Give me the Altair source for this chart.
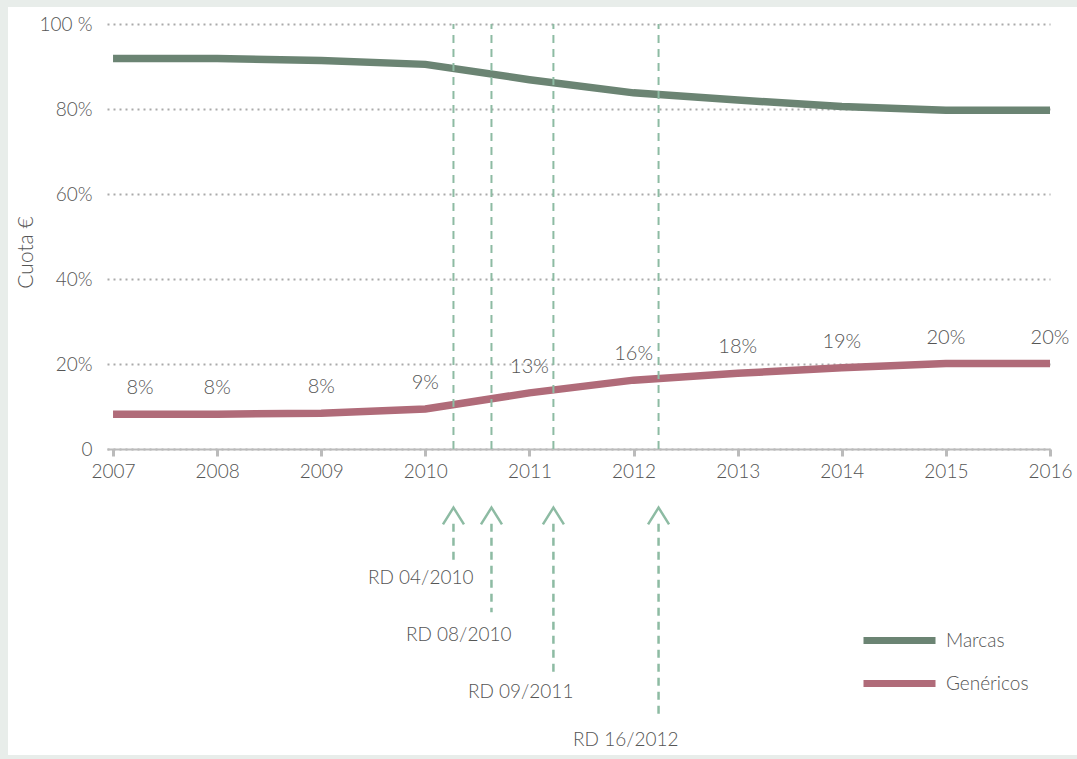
import altair as alt
import pandas as pd

# ---- data ----
years = [2007, 2008, 2009, 2010, 2011, 2012, 2013, 2014, 2015, 2016]
marcas = [91.9, 91.9, 91.4, 90.5, 86.9, 83.8, 82.1, 80.6, 79.7, 79.7]
genericos = [8.2, 8.2, 8.4, 9.4, 13.2, 16.2, 17.8, 19.1, 20.1, 20.1]

rd_labels = ["RD 04/2010", "RD 08/2010", "RD 09/2011", "RD 16/2012"]
rd_dates = [2010.27, 2010.635, 2011.23, 2012.24]
# vertical reach of each annotation below the axis, in chart units (% axis)
rd_arrow_tip = [-13.8, -13.8, -13.8, -13.8]
rd_shaft_top = [-17.6, -17.6, -17.6, -17.6]
rd_shaft_end = [-26.1, -38.4, -52.7, -63.5]
rd_label_level = [-30.4, -43.8, -57.2, -68.5]

series_names = ["Marcas", "Genéricos"]
series_colors = ["#6b8473", "#b06b79"]

FONT = "Lato"
TXT = "#555555"
BORDER = "#e8edea"

rows = []
for y, m, g in zip(years, marcas, genericos):
    rows.append({"year": y, "serie": "Marcas", "value": m})
    rows.append({"year": y, "serie": "Genéricos", "value": g})
df = pd.DataFrame(rows)
gen = pd.DataFrame({"year": years, "value": genericos})
rd = pd.DataFrame({
    "date": rd_dates, "label": rd_labels, "tip": rd_arrow_tip,
    "top": rd_shaft_top, "end": rd_shaft_end, "lvl": rd_label_level,
})

xscale = alt.Scale(domain=[2006.942, 2016], nice=False, zero=False)
yscale = alt.Scale(domain=[0, 100], nice=False)

one = pd.DataFrame({"a": [0]})
border_left = alt.Chart(one).mark_rect(color=BORDER).encode(
    x=alt.value(-107), x2=alt.value(-99), y=alt.value(-24), y2=alt.value(735))
border_top = alt.Chart(one).mark_rect(color=BORDER).encode(
    x=alt.value(-107), x2=alt.value(970), y=alt.value(-24), y2=alt.value(-17))
border_bottom = alt.Chart(one).mark_rect(color=BORDER).encode(
    x=alt.value(-107), x2=alt.value(970), y=alt.value(731), y2=alt.value(735))

lines = alt.Chart(df).mark_line(strokeWidth=7.5, strokeCap="butt").encode(
    x=alt.X("year:Q", scale=xscale,
            axis=alt.Axis(values=years, format="d", title=None, grid=False,
                          labelFontSize=19, labelColor=TXT, labelFont=FONT,
                          labelFontWeight=300, labelPadding=6, labelFlush=False,
                          domainColor="#bbbbbb", domainWidth=2,
                          tickColor="#bbbbbb", tickWidth=3, tickSize=7)),
    y=alt.Y("value:Q", scale=yscale,
            axis=alt.Axis(values=[0, 20, 40, 60, 80, 100],
                          labelExpr="datum.value == 0 ? '0' : datum.value == 100 ? '100 %' : datum.value + '%'",
                          title="Cuota €", titleY=228, titlePadding=2,
                          labelFontSize=19, labelColor=TXT, labelFont=FONT,
                          labelFontWeight=300, labelPadding=15, ticks=False,
                          domain=False, grid=True, gridColor="#aaaaaa",
                          gridDash=[2, 4], gridWidth=2)),
    color=alt.Color("serie:N", scale=alt.Scale(domain=series_names, range=series_colors),
                    legend=alt.Legend(title=None, orient="none", legendX=777, legendY=601,
                                      symbolType="M-3,0H3", symbolSize=576,
                                      symbolStrokeWidth=7, labelFontSize=19,
                                      labelFont=FONT, labelFontWeight=300,
                                      labelColor=TXT, labelOffset=31,
                                      rowPadding=13, padding=0)),
    order=alt.Order("year:Q"),
)

vrules = alt.Chart(rd).mark_rule(color="#8dbba3", strokeWidth=2, strokeDash=[8, 6]).encode(
    x=alt.X("date:Q", scale=xscale), y=alt.datum(0), y2=alt.datum(100)
)

labels_first = alt.Chart(gen.iloc[:1]).mark_text(
    dy=-26, dx=27, fontSize=20, font=FONT, fontWeight=300, color=TXT
).transform_calculate(t="format(datum.value, '.0f') + '%'").encode(
    x=alt.X("year:Q", scale=xscale), y=alt.Y("value:Q", scale=yscale), text="t:N")
labels_rest = alt.Chart(gen.iloc[1:]).mark_text(
    dy=-26, fontSize=20, font=FONT, fontWeight=300, color=TXT
).transform_calculate(t="format(datum.value, '.0f') + '%'").encode(
    x=alt.X("year:Q", scale=xscale), y=alt.Y("value:Q", scale=yscale), text="t:N")

chev = alt.Chart(rd).mark_point(
    shape="M-1,1.6L0,0L1,1.6", size=441, filled=False, stroke="#8dbba3", strokeWidth=2.5, opacity=1
).encode(x=alt.X("date:Q", scale=xscale), y=alt.Y("tip:Q", scale=yscale))

shafts = alt.Chart(rd).mark_rule(color="#8dbba3", strokeWidth=2.5, strokeDash=[8, 6]).encode(
    x=alt.X("date:Q", scale=xscale), y=alt.Y("top:Q", scale=yscale), y2="end:Q"
)

rd_text = alt.Chart(rd).mark_text(
    align="right", baseline="middle", dx=20, fontSize=19, font=FONT, fontWeight=300, color=TXT
).encode(x=alt.X("date:Q", scale=xscale), y=alt.Y("lvl:Q", scale=yscale), text="label:N")

chart = alt.layer(border_left, border_top, border_bottom, lines, vrules, labels_first,
                  labels_rest, chev, shafts, rd_text).properties(
    width=943, height=425,
    autosize=alt.AutoSizeParams(type="none"),
    padding={"left": 107, "top": 24, "right": 27, "bottom": 310},
    background="white",
).configure_view(stroke=None).configure_axis(
    titleFont=FONT, titleFontSize=21, titleFontWeight=300, titleColor=TXT
)

chart.save("out.html", embed_options={"renderer": "svg", "actions": False})
